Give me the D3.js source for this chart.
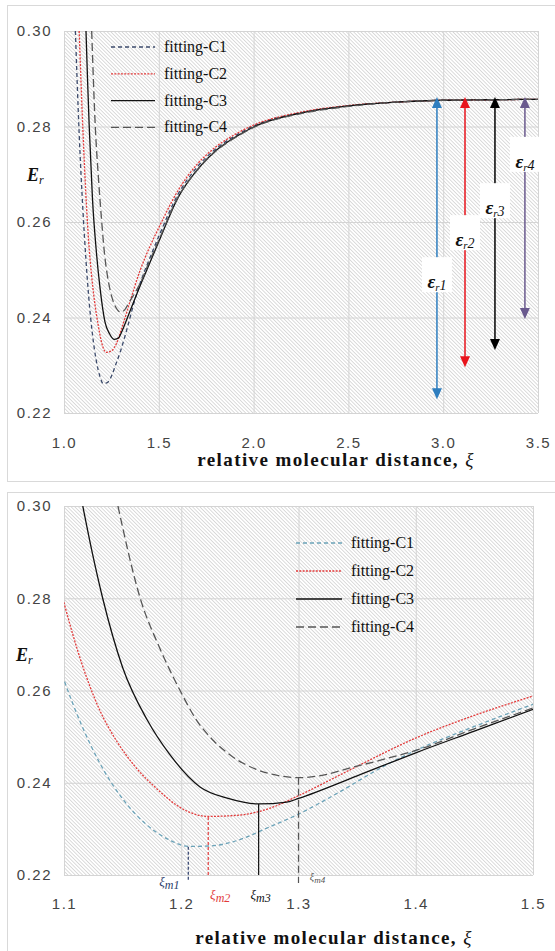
<!DOCTYPE html>
<html>
<head>
<meta charset="utf-8">
<script src="https://cdn.jsdelivr.net/npm/d3@7/dist/d3.min.js"></script>
<style>
  body { margin: 0; background: #fff; }
  svg { display: block; }
</style>
</head>
<body>
<div id="chart"></div>
<script>
//************************************************************************************************************
// Data
//************************************************************************************************************
var seriesNames = ["fitting-C1", "fitting-C2", "fitting-C3", "fitting-C4"];

// [xi, Er]
var c1 = [
    [1.060, 0.3000], [1.080, 0.2785], [1.100, 0.2623], [1.115, 0.2525], [1.130, 0.2445],
    [1.150, 0.2365], [1.170, 0.2310], [1.190, 0.2276], [1.206, 0.2262], [1.225, 0.2263],
    [1.244, 0.2272], [1.276, 0.2305], [1.300, 0.2332], [1.335, 0.2380], [1.370, 0.2432],
    [1.400, 0.2470], [1.450, 0.2522], [1.500, 0.2570], [1.600, 0.2657], [1.700, 0.2714],
    [1.800, 0.2753], [1.900, 0.2780], [2.000, 0.2801], [2.250, 0.2829], [2.500, 0.2843],
    [2.750, 0.2851], [3.000, 0.2855], [3.250, 0.2856], [3.500, 0.2857]
];
var c2 = [
    [1.080, 0.3000], [1.090, 0.2890], [1.100, 0.2790], [1.115, 0.2660], [1.130, 0.2560],
    [1.145, 0.2490], [1.160, 0.2437], [1.180, 0.2385], [1.200, 0.2345], [1.223, 0.2327],
    [1.250, 0.2330], [1.276, 0.2345], [1.300, 0.2372], [1.344, 0.2428], [1.400, 0.2497],
    [1.450, 0.2546], [1.500, 0.2588], [1.600, 0.2665], [1.700, 0.2720], [1.800, 0.2757],
    [1.900, 0.2783], [2.000, 0.2803], [2.250, 0.2830], [2.500, 0.2844], [2.750, 0.2851],
    [3.000, 0.2855], [3.250, 0.2856], [3.500, 0.2857]
];
var c3 = [
    [1.116, 0.3000], [1.124, 0.2900], [1.133, 0.2800], [1.150, 0.2650], [1.171, 0.2536],
    [1.190, 0.2462], [1.216, 0.2391], [1.240, 0.2366], [1.266, 0.2354], [1.290, 0.2358],
    [1.300, 0.2366], [1.350, 0.2415], [1.400, 0.2465], [1.450, 0.2512], [1.500, 0.2559],
    [1.600, 0.2650], [1.700, 0.2708], [1.800, 0.2749], [1.900, 0.2777], [2.000, 0.2799],
    [2.250, 0.2828], [2.500, 0.2843], [2.750, 0.2851], [3.000, 0.2855], [3.250, 0.2856],
    [3.500, 0.2857]
];
var c4 = [
    [1.146, 0.3000], [1.165, 0.2800], [1.182, 0.2690], [1.199, 0.2600], [1.213, 0.2536],
    [1.228, 0.2490], [1.244, 0.2456], [1.265, 0.2428], [1.284, 0.2415], [1.300, 0.2411],
    [1.320, 0.2416], [1.344, 0.2432], [1.370, 0.2449], [1.400, 0.2470], [1.450, 0.2517],
    [1.500, 0.2562], [1.600, 0.2651], [1.700, 0.2707], [1.800, 0.2748], [1.900, 0.2776],
    [2.000, 0.2798], [2.250, 0.2827], [2.500, 0.2842], [2.750, 0.2851], [3.000, 0.2855],
    [3.250, 0.2856], [3.500, 0.2857]
];
var allSeries = [c1, c2, c3, c4];

var yTicks = [0.22, 0.24, 0.26, 0.28, 0.30];
var topXTicks = [1.0, 1.5, 2.0, 2.5, 3.0, 3.5];
var bottomXTicks = [1.1, 1.2, 1.3, 1.4, 1.5];

// depth arrows epsilon_r (top panel)
var arrowNames = ["1", "2", "3", "4"];
var arrowXi = [2.967, 3.115, 3.273, 3.431];
var arrowHigh = [0.2862, 0.2862, 0.2862, 0.2862];
var arrowLow = [0.2229, 0.2296, 0.2332, 0.2397];

// minima xi_m (bottom panel)
var minNames = ["m1", "m2", "m3", "m4"];
var minXi = [1.206, 1.223, 1.266, 1.300];
var minEr = [0.2261, 0.2326, 0.2354, 0.2411];

//************************************************************************************************************
// Styles
//************************************************************************************************************
var topStyles = [
    {color: "#3b4a6b", dash: "4,3"},
    {color: "#e23a3a", dash: "2,1.3"},
    {color: "#111111", dash: null},
    {color: "#555555", dash: "8,4"}
];
var bottomStyles = [
    {color: "#6aa2b8", dash: "4,3"},
    {color: "#e23a3a", dash: "2,1.3"},
    {color: "#111111", dash: null},
    {color: "#555555", dash: "8,4"}
];
var arrowColors = ["#2e7ebf", "#e8141c", "#000000", "#6a5a8e"];
var minColors = ["#2c3d6b", "#e23a3a", "#111111", "#555555"];

var serif = "'Liberation Serif', 'Times New Roman', serif";
var tickFont = "'Liberation Sans', Arial, sans-serif";

var svg = d3.select("#chart").append("svg")
    .attr("width", 555)
    .attr("height", 951);

// diagonal hatch background
var defs = svg.append("defs");
defs.append("pattern")
    .attr("id", "hatch")
    .attr("patternUnits", "userSpaceOnUse")
    .attr("width", 2.6)
    .attr("height", 2.6)
    .attr("patternTransform", "rotate(-45)")
  .append("line")
    .attr("x1", 1.3).attr("y1", 0)
    .attr("x2", 1.3).attr("y2", 2.6)
    .attr("stroke", "#d2d2d2")
    .attr("stroke-width", 0.8);

//************************************************************************************************************
// Panel drawing
//************************************************************************************************************
function drawPanel(o) {
    var g = svg.append("g");

    // outer frame
    g.append("rect")
        .attr("x", o.frame[0] + 0.5).attr("y", o.frame[1] + 0.5)
        .attr("width", o.frame[2]).attr("height", o.frame[3])
        .attr("fill", "none")
        .attr("stroke", "#d9d9d9");

    var x = d3.scaleLinear().domain(o.xDomain).range([o.left, o.right]);
    var y = d3.scaleLinear().domain([0.22, 0.30]).range([o.bottom, o.top]);

    g.append("rect")
        .attr("x", o.left).attr("y", o.top)
        .attr("width", o.right - o.left).attr("height", o.bottom - o.top)
        .attr("fill", "url(#hatch)");

    // grid
    var gx = g.append("g")
        .attr("transform", "translate(0," + o.bottom + ")")
        .call(d3.axisBottom(x).tickValues(o.xTicks).tickSize(-(o.bottom - o.top)).tickFormat(""));
    var gy = g.append("g")
        .attr("transform", "translate(" + o.left + ",0)")
        .call(d3.axisLeft(y).tickValues(yTicks).tickSize(-(o.right - o.left)).tickFormat(""));
    [gx, gy].forEach(function(a) {
        a.select(".domain").remove();
        a.selectAll("line").attr("stroke", "#d4d4d4").attr("stroke-width", 1);
    });

    // tick labels
    var lx = g.append("g")
        .attr("transform", "translate(0," + o.bottom + ")")
        .call(d3.axisBottom(x).tickValues(o.xTicks).tickSize(0).tickPadding(o.xPad).tickFormat(d3.format(".1f")));
    var ly = g.append("g")
        .attr("transform", "translate(" + o.left + ",0)")
        .call(d3.axisLeft(y).tickValues(yTicks).tickSize(0).tickPadding(12).tickFormat(d3.format(".2f")));
    [lx, ly].forEach(function(a) {
        a.select(".domain").remove();
        a.selectAll("text")
            .attr("fill", "#444")
            .style("font-family", tickFont)
            .style("font-size", "15px")
            .style("letter-spacing", "1.5px");
    });

    // curves
    var clipId = "clip-" + o.id;
    defs.append("clipPath").attr("id", clipId)
      .append("rect")
        .attr("x", o.left).attr("y", o.top)
        .attr("width", o.right - o.left).attr("height", o.bottom - o.top);

    var line = d3.line()
        .x(function(d) { return x(d[0]); })
        .y(function(d) { return y(d[1]); })
        .curve(d3.curveMonotoneX);

    var curves = g.append("g").attr("clip-path", "url(#" + clipId + ")");
    allSeries.forEach(function(s, i) {
        curves.append("path")
            .datum(s)
            .attr("d", line)
            .attr("fill", "none")
            .attr("stroke", o.styles[i].color)
            .attr("stroke-width", 1.3)
            .attr("stroke-dasharray", o.styles[i].dash);
    });

    // legend
    var leg = g.append("g");
    seriesNames.forEach(function(name, i) {
        var ry = o.legend.y + i * o.legend.step;
        leg.append("line")
            .attr("x1", o.legend.x).attr("x2", o.legend.x + o.legend.len)
            .attr("y1", ry).attr("y2", ry)
            .attr("stroke", o.styles[i].color)
            .attr("stroke-width", 1.3)
            .attr("stroke-dasharray", o.styles[i].dash);
        leg.append("text")
            .attr("x", o.legend.x + o.legend.len + 9)
            .attr("y", ry + 5)
            .style("font-family", serif)
            .style("font-size", "16px")
            .attr("fill", "#111")
            .text(name);
    });

    // axis titles
    var xt = g.append("text")
        .attr("x", o.xTitle[0]).attr("y", o.xTitle[1])
        .attr("text-anchor", "middle")
        .style("font-family", serif)
        .style("font-size", "19px")
        .style("letter-spacing", "1.4px")
        .attr("fill", "#111");
    xt.append("tspan").style("font-weight", "bold").text("relative molecular distance, ");
    xt.append("tspan").style("font-style", "italic").text("ξ");

    var yt = g.append("text")
        .attr("x", o.yTitle[0]).attr("y", o.yTitle[1])
        .style("font-family", serif)
        .attr("fill", "#111");
    yt.append("tspan").style("font-size", "18px").style("font-weight", "bold").style("font-style", "italic").text("E");
    yt.append("tspan").style("font-size", "12px").style("font-style", "italic").attr("dy", 3).text("r");

    return {g: g, x: x, y: y};
}

//************************************************************************************************************
// Top panel: full range with depth arrows
//************************************************************************************************************
var topPanel = drawPanel({
    id: "top", frame: [7, 5, 560, 476],
    left: 64, right: 538, top: 31, bottom: 413,
    xDomain: [1.0, 3.5], xTicks: topXTicks, xPad: 24,
    styles: topStyles,
    legend: {x: 111, y: 47, step: 26.8, len: 44},
    xTitle: [336, 466], yTitle: [27, 181]
});

// bottom edge of the white label boxes, in Er units
var arrowBoxLow = [0.2453, 0.2541, 0.2608, 0.2705];

arrowXi.forEach(function(xi, i) {
    var px = topPanel.x(xi), y1 = topPanel.y(arrowHigh[i]), y2 = topPanel.y(arrowLow[i]);
    var c = arrowColors[i];
    topPanel.g.append("line")
        .attr("x1", px).attr("x2", px)
        .attr("y1", y1 + 8).attr("y2", y2 - 8)
        .attr("stroke", c).attr("stroke-width", 1.5);
    topPanel.g.append("path")
        .attr("d", "M" + px + "," + y1 + "L" + (px - 5) + "," + (y1 + 11) + "L" + (px + 5) + "," + (y1 + 11) + "Z")
        .attr("fill", c);
    topPanel.g.append("path")
        .attr("d", "M" + px + "," + y2 + "L" + (px - 5) + "," + (y2 - 11) + "L" + (px + 5) + "," + (y2 - 11) + "Z")
        .attr("fill", c);

    var bb = topPanel.y(arrowBoxLow[i]);
    topPanel.g.append("rect")
        .attr("x", px - 15).attr("y", bb - 35)
        .attr("width", 30).attr("height", 35)
        .attr("fill", "#fff");
    var t = topPanel.g.append("text")
        .attr("x", px).attr("y", bb - 4)
        .attr("text-anchor", "middle")
        .style("font-family", serif)
        .attr("fill", "#111");
    t.append("tspan").style("font-size", "19px").style("font-weight", "bold").style("font-style", "italic").text("ε");
    t.append("tspan").style("font-size", "11px").style("font-style", "italic").attr("dy", 3).text("r");
    t.append("tspan").style("font-size", "14px").style("font-style", "italic").attr("dy", -1).text(arrowNames[i]);
});

//************************************************************************************************************
// Bottom panel: zoom around the minima
//************************************************************************************************************
var bottomPanel = drawPanel({
    id: "bottom", frame: [7, 492, 560, 470],
    left: 64, right: 533, top: 506, bottom: 875,
    xDomain: [1.1, 1.5], xTicks: bottomXTicks, xPad: 23,
    styles: bottomStyles,
    legend: {x: 296, y: 543, step: 28, len: 46},
    xTitle: [334, 944], yTitle: [16, 661]
});

var minExtend = [5, 0, 0, 8];
var minLabelDx = [-19, 12, 2, 19];
var minLabelDy = [11, 24, 24, 5];
var minLabelSize = [13, 13, 13, 10];

minXi.forEach(function(xi, i) {
    var px = bottomPanel.x(xi);
    bottomPanel.g.append("line")
        .attr("x1", px).attr("x2", px)
        .attr("y1", bottomPanel.y(minEr[i])).attr("y2", bottomPanel.y(0.22) + minExtend[i])
        .attr("stroke", minColors[i])
        .attr("stroke-width", 1.2)
        .attr("stroke-dasharray", i === 2 ? null : (i === 3 ? "7,4" : "3,2"));
    var t = bottomPanel.g.append("text")
        .attr("x", px + minLabelDx[i]).attr("y", bottomPanel.y(0.22) + minLabelDy[i])
        .attr("text-anchor", "middle")
        .style("font-family", serif)
        .style("font-style", "italic")
        .attr("fill", minColors[i]);
    t.append("tspan").style("font-size", minLabelSize[i] + "px").text("ξ");
    t.append("tspan").style("font-size", (minLabelSize[i] - 1) + "px").attr("dy", 3).text(minNames[i]);
});
</script>
</body>
</html>
